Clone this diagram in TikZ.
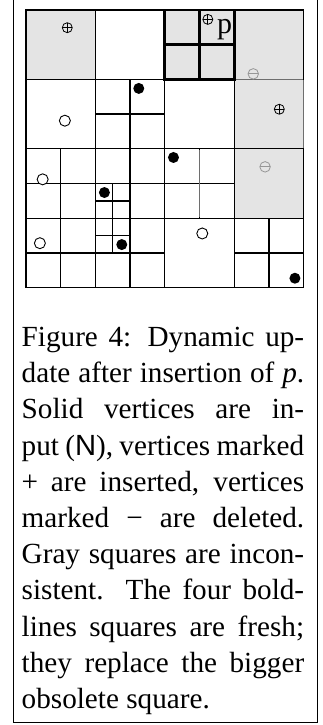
\documentclass[tikz,border=0pt]{standalone}
\usepackage{fontspec}
\setmainfont{Liberation Serif}
\newfontfamily\capsans{Liberation Sans}
\definecolor{graysq}{RGB}{228,228,228}
\definecolor{markgray}{RGB}{150,150,150}
\definecolor{linegray}{RGB}{110,110,110}
\tikzset{
  cell/.style={draw=black,line width=1.35pt},
  freshcell/.style={draw=black,line width=2.7pt},
  thinline/.style={draw=linegray,line width=1pt},
  incons/.style={fill=graysq},
  oplusmark/.style={circle,draw=black,line width=0.8pt,minimum size=10pt,inner sep=0pt,
    path picture={\draw[line width=0.8pt] (path picture bounding box.north) -- (path picture bounding box.south)
      (path picture bounding box.west) -- (path picture bounding box.east);}},
  ominusmark/.style={circle,draw=markgray,line width=0.8pt,minimum size=10.5pt,inner sep=0pt,
    path picture={\draw[markgray,line width=0.8pt] (path picture bounding box.west) -- (path picture bounding box.east);}},
  openmark/.style={circle,draw=black,line width=0.9pt,fill=white,minimum size=11pt,inner sep=0pt},
  solidmark/.style={circle,fill=black,minimum size=11pt,inner sep=0pt},
  capline/.style={anchor=base west,inner sep=0pt,font=\fontsize{29.2}{36}\selectfont},
}
\begin{document}
\begin{tikzpicture}[x=1pt,y=-1pt]
\useasboundingbox (0,0) rectangle (323,725);
% outer frame (open at top)
\draw[line width=1pt] (13,-3) -- (13,722.5) -- (317,722.5) -- (317,-3);
\begin{scope}[shift={(26pt,-10pt)},x=34.7pt,y=-34.7pt]
  % inconsistent (gray) squares
  \path[incons] (0,0) rectangle (2,2);
  \path[incons] (4,0) rectangle (6,2);
  \path[incons] (6,0) rectangle (8,6);
  % size-2 squares
  \foreach \a/\b in {0/0,2/0,6/0,0/2,4/2,6/2,6/4,4/6}
    \draw[cell] (\a,\b) rectangle ++(2,2);
  % size-1 squares
  \foreach \a/\b in {2/2,3/2,2/3,3/3, 0/4,1/4,0/5,1/5, 2/4,3/4,3/5, 4/4,4/5,5/4,5/5,
                     0/6,1/6,0/7,1/7, 3/6,2/7,3/7, 6/6,7/6,6/7,7/7}
    \draw[cell] (\a,\b) rectangle ++(1,1);
  % size-1/2 squares
  \foreach \a/\b in {2/5,2.5/5,2/5.5,2.5/5.5, 2/6,2.5/6,2/6.5,2.5/6.5}
    \draw[cell] (\a,\b) rectangle ++(0.5,0.5);
  % lighter lines
  \draw[thinline] (5,4.03) -- (5,5.97);
  \draw[thinline] (6.03,2) -- (7.97,2);
  \draw[thinline] (8,2.03) -- (8,3.97);
  % fresh squares (bold)
  \foreach \a/\b in {4/0,5/0,4/1,5/1}
    \draw[freshcell] (\a,\b) rectangle ++(1,1);
  % vertices
  \node[oplusmark] (v1) at (1.19,0.51) {};
  \node[oplusmark] (v2) at (5.24,0.27) {};
  \node[inner sep=0pt,anchor=base west,font=\fontsize{30}{36}\selectfont] (plab) at (5.5,0.67) {p};
  \node[ominusmark] (v3) at (6.55,1.84) {};
  \node[oplusmark] (v4) at (7.3,2.86) {};
  \node[openmark] (v5) at (1.12,3.19) {};
  \node[solidmark] (v6) at (3.25,2.26) {};
  \node[openmark] (v7) at (0.48,4.88) {};
  \node[solidmark] (v8) at (2.26,5.26) {};
  \node[solidmark] (v9) at (4.25,4.25) {};
  \node[ominusmark] (v10) at (6.89,4.52) {};
  \node[openmark] (v11) at (0.4,6.72) {};
  \node[solidmark] (v12) at (2.76,6.76) {};
  \node[openmark] (v13) at (5.08,6.44) {};
  \node[solidmark] (v14) at (7.75,7.73) {};
\end{scope}
% caption
\node[capline] (c1) at (21.5,346.5) {\makebox[282.5pt][s]{Figure 4: Dynamic up-}};
\node[capline] (c2) at (21.5,382.7) {\makebox[282.5pt][s]{date after insertion of \textit{p}.}};
\node[capline] (c3) at (21.5,418.9) {\makebox[282.5pt][s]{Solid vertices are in-}};
\node[capline] (c4) at (21.5,455.1) {\makebox[282.5pt][s]{put ({\capsans N}), vertices marked}};
\node[capline] (c5) at (21.5,491.3) {\makebox[282.5pt][s]{+ are inserted, vertices}};
\node[capline] (c6) at (21.5,527.5) {\makebox[282.5pt][s]{marked − are deleted.}};
\node[capline] (c7) at (21.5,563.7) {\makebox[282.5pt][s]{Gray squares are incon-}};
\node[capline] (c8) at (21.5,599.9) {\makebox[282.5pt][s]{sistent. The four bold-}};
\node[capline] (c9) at (21.5,636.1) {\makebox[282.5pt][s]{lines squares are fresh;}};
\node[capline] (c10) at (21.5,672.3) {\makebox[282.5pt][s]{they replace the bigger}};
\node[capline] (c11) at (21.5,708.5) {obsolete square.};
\end{tikzpicture}
\end{document}
